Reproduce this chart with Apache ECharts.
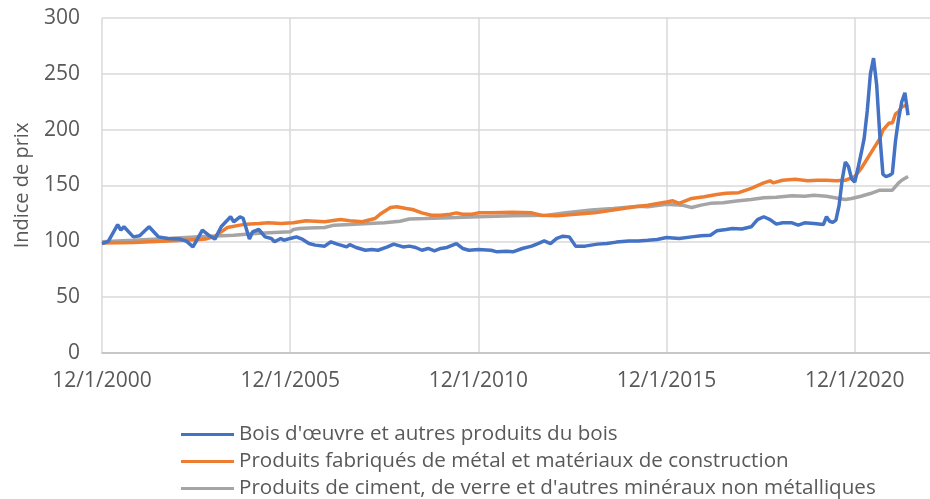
<!DOCTYPE html>
<html>
<head>
<meta charset="utf-8">
<script src="https://cdn.jsdelivr.net/npm/echarts@6/dist/echarts.min.js"></script>
<style>
  html, body { margin: 0; padding: 0; background: #fff; }
  #chart { width: 930px; height: 499px; }
</style>
</head>
<body>
<div id="chart"></div>
<script>
// indice de prix, lecture du graphique (mois YYYY-MM)
const woodDates = ["2000-12","2001-02","2001-05","2001-06","2001-07","2001-10","2001-12","2002-03","2002-05","2002-06","2002-09","2003-01","2003-03","2003-05","2003-06","2003-08","2003-10","2003-12","2004-02","2004-05","2004-06","2004-08","2004-09","2004-11","2004-12","2005-02","2005-04","2005-06","2005-07","2005-09","2005-10","2005-12","2006-02","2006-04","2006-06","2006-08","2006-11","2007-01","2007-03","2007-06","2007-07","2007-09","2007-12","2008-02","2008-04","2008-07","2008-09","2008-12","2009-02","2009-04","2009-06","2009-08","2009-10","2009-12","2010-02","2010-05","2010-07","2010-09","2010-12","2011-04","2011-06","2011-09","2011-11","2012-02","2012-05","2012-07","2012-09","2012-11","2013-01","2013-03","2013-05","2013-07","2013-10","2013-12","2014-02","2014-05","2014-08","2014-12","2015-03","2015-06","2015-09","2015-12","2016-04","2016-08","2016-11","2017-02","2017-04","2017-07","2017-09","2017-12","2018-03","2018-05","2018-07","2018-09","2018-11","2019-01","2019-04","2019-06","2019-08","2019-11","2020-02","2020-03","2020-04","2020-05","2020-06","2020-07","2020-08","2020-09","2020-10","2020-11","2020-12","2021-01","2021-02","2021-03","2021-04","2021-05","2021-06","2021-07","2021-08","2021-09","2021-10","2021-11","2021-12","2022-01","2022-02","2022-03","2022-04","2022-05"];
const woodValues = [98,100,115,110,113,104,105,113,107,104,102.5,102,100,95,100,110,105.5,102,113,122,117.5,122,120.7,102,108.5,110.6,104,102.6,99.6,102.6,101,102.6,104,101.7,98,96.6,95.7,99.6,97.5,95,97,94.5,92,92.7,92,95,97.5,95,95.7,94.5,92,93.6,91.5,93.6,94.5,98,93.6,92,92.7,92,90.6,91.2,90.6,93.6,95.7,98,100.4,98,102.6,104.6,104,95.7,95.7,96.6,97.5,98,99.3,100.4,100.4,101,101.7,103.5,102.6,104,105,105.5,109.4,110.6,111.5,111,113,119.5,122,119.5,115.4,116.6,116.6,114.5,116.6,116,115,122,118,117,119,132,155,171,167,156,153,165,178,192,217,250,264,240,195,160,158,159,161,190,210,225,233,213];

const metalDates = ["2000-12","2001-10","2002-09","2003-07","2003-09","2003-12","2004-02","2004-04","2004-08","2004-10","2005-02","2005-05","2005-09","2006-01","2006-05","2006-11","2007-04","2007-07","2007-11","2008-03","2008-05","2008-08","2008-10","2009-01","2009-03","2009-06","2009-09","2009-12","2010-03","2010-05","2010-07","2010-10","2010-12","2011-04","2011-11","2012-05","2012-08","2013-01","2013-07","2014-01","2014-07","2015-02","2015-06","2015-12","2016-02","2016-04","2016-08","2016-12","2017-04","2017-07","2017-11","2018-03","2018-07","2018-09","2018-10","2019-01","2019-05","2019-09","2019-12","2020-03","2020-06","2020-09","2020-12","2021-02","2021-04","2021-06","2021-08","2021-09","2021-11","2021-12","2022-01","2022-02","2022-03","2022-05"];
const metalValues = [98.5,99,100.4,101.7,102,104.5,108.5,112.4,114.5,115.4,116,116.6,116,116.6,118.4,117.5,119.5,118.4,117.5,120.4,125,130.3,131,129.4,128.5,125.5,123.4,123.4,124.3,125.5,124.3,124.3,125.5,125.5,126,125.5,123.4,122.8,124.3,125.5,128,131,132.4,135.3,136.3,134,138.4,140,142,143,143.6,147.5,152.4,154.2,152.4,154.7,155.6,154.2,154.7,154.7,154.2,154.7,158,165,174,183,192,199.5,206,206,214,216,220.5,222.5];

const cementDates = ["2000-12","2001-10","2002-09","2003-07","2004-06","2005-01","2005-07","2005-12","2006-01","2006-03","2006-06","2006-11","2007-02","2007-07","2008-01","2008-06","2008-11","2009-02","2009-07","2009-12","2010-05","2010-12","2011-11","2012-10","2013-04","2013-12","2014-07","2015-03","2015-06","2015-12","2016-05","2016-08","2016-11","2017-02","2017-06","2017-11","2018-03","2018-07","2018-11","2019-04","2019-08","2019-11","2020-03","2020-07","2020-09","2020-11","2021-02","2021-05","2021-08","2021-12","2022-02","2022-03","2022-05"];
const cementValues = [99.6,101,102.6,104,105.5,107,108,108.5,110.6,111.5,112,112.4,114.5,115,116,116.6,118,120,120.4,121,121.3,122,122.8,123.4,125.5,128,129.4,131.5,131,133.3,132.4,130.3,132.4,134,134.5,136.3,137.5,139,139.4,140.8,140.4,141.3,140.4,138.4,137.5,138.4,140.4,142.8,145.8,145.8,152.4,154.7,158];

const seriesNames = [
  "Bois d'œuvre et autres produits du bois",
  "Produits fabriqués de métal et matériaux de construction",
  "Produits de ciment, de verre et d'autres minéraux non métalliques"
];
const xLabelYears = [2000, 2005, 2010, 2015, 2020];
const yTicks = [0, 50, 100, 150, 200, 250, 300];

// mois écoulés depuis 12/2000
function monthIdx(s) {
  const p = s.split("-");
  return (+p[0] - 2000) * 12 + (+p[1] - 12);
}
function pairs(dates, vals) {
  return dates.map((d, i) => [monthIdx(d), vals[i]]);
}

const chart = echarts.init(document.getElementById("chart"));
const textColor = "#595959";
const font = "Open Sans";

chart.setOption({
  animation: false,
  grid: { left: 102, right: 0, top: 18, bottom: 146 },
  xAxis: {
    type: "value",
    min: 0,
    max: 264,
    interval: 60,
    axisLine: { show: true, lineStyle: { color: "#BFBFBF", width: 1.5 } },
    axisTick: { show: false },
    splitLine: { show: true, showMaxLine: false, lineStyle: { color: "#D9D9D9", width: 1.5 } },
    axisLabel: {
      margin: 18,
      color: textColor,
      fontFamily: font,
      fontSize: 21,
      showMaxLabel: false,
      formatter: function (v) {
        const k = v / 60;
        return Number.isInteger(k) && k < xLabelYears.length ? "12/1/" + xLabelYears[k] : "";
      }
    }
  },
  yAxis: {
    type: "value",
    min: yTicks[0],
    max: yTicks[yTicks.length - 1],
    interval: 50,
    name: "Indice de prix",
    nameLocation: "middle",
    nameGap: 70,
    nameTextStyle: { color: textColor, fontFamily: font, fontSize: 20 },
    axisLine: { show: false },
    axisTick: { show: false },
    splitLine: { lineStyle: { color: "#D9D9D9", width: 1.5 } },
    axisLabel: { margin: 22, color: textColor, fontFamily: font, fontSize: 21 }
  },
  legend: {
    orient: "vertical",
    left: 176,
    top: 419,
    height: 120,
    icon: "rect",
    itemWidth: 53,
    itemHeight: 3,
    itemGap: 6,
    textStyle: { color: textColor, fontFamily: font, fontSize: 20.6, lineHeight: 21 },
    data: seriesNames
  },
  series: [
    { name: seriesNames[0], type: "line", symbol: "none", data: pairs(woodDates, woodValues),
      lineStyle: { color: "#4472C4", width: 3.5 }, itemStyle: { color: "#4472C4" }, z: 4 },
    { name: seriesNames[1], type: "line", symbol: "none", data: pairs(metalDates, metalValues),
      lineStyle: { color: "#ED7D31", width: 3.5 }, itemStyle: { color: "#ED7D31" }, z: 3 },
    { name: seriesNames[2], type: "line", symbol: "none", data: pairs(cementDates, cementValues),
      lineStyle: { color: "#A5A5A5", width: 3.5 }, itemStyle: { color: "#A5A5A5" }, z: 2 }
  ]
});
</script>
</body>
</html>
